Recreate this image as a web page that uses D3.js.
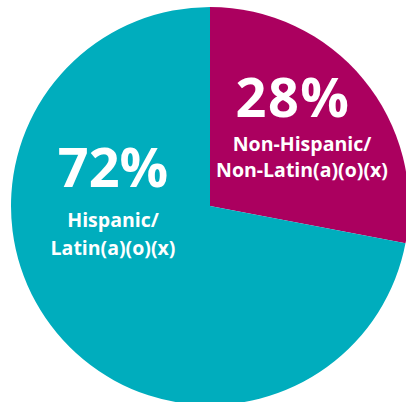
<!DOCTYPE html>
<html><head><meta charset="utf-8">
<script src="https://cdn.jsdelivr.net/npm/d3@7"></script>
<style>html,body{margin:0;padding:0;background:#fff;}svg{display:block;}</style>
</head><body>
<script>
const categories = ["Non-Hispanic/Non-Latin(a)(o)(x)", "Hispanic/Latin(a)(o)(x)"];
const values = [28, 72];
const pctLabels = ["28%", "72%"];
const labelLines = [["Non-Hispanic/", "Non-Latin(a)(o)(x)"], ["Hispanic/", "Latin(a)(o)(x)"]];
const colors = ["#ab005f", "#00adbd"];

const W = 406, H = 402, cx = 210, cy = 206, R = 199;
const svg = d3.select("body").append("svg").attr("width", W).attr("height", H);
const g = svg.append("g").attr("transform", `translate(${cx},${cy})`);
const pie = d3.pie().sort(null).value(d => d);
const arcs = pie(values);
const arc = d3.arc().innerRadius(0).outerRadius(R);
const color = d3.scaleOrdinal().domain(categories).range(colors);

g.selectAll("path").data(arcs).join("path")
  .attr("d", arc).attr("fill", (d, i) => color(categories[i]));

const pctX = [83, -97];
const lblX = [92, -97];
const pctY = [-89, -19];
const lineY = [[-55, -29], [21, 49]];
const pctSpacing = [1.5, 0];
const font = "'Open Sans', sans-serif";
arcs.forEach((a, i) => {
  g.append("text").attr("x", pctX[i]).attr("y", pctY[i])
    .attr("text-anchor", "middle").attr("fill", "#fff")
    .attr("font-family", font).attr("font-weight", 700).attr("font-size", 54)
    .attr("letter-spacing", pctSpacing[i])
    .text(pctLabels[i]);
  labelLines[i].forEach((t, j) => {
    g.append("text").attr("x", lblX[i]).attr("y", lineY[i][j])
      .attr("text-anchor", "middle").attr("fill", "#fff")
      .attr("font-family", font).attr("font-weight", 700).attr("font-size", 19.5)
      .text(t);
  });
});
</script>
</body></html>
